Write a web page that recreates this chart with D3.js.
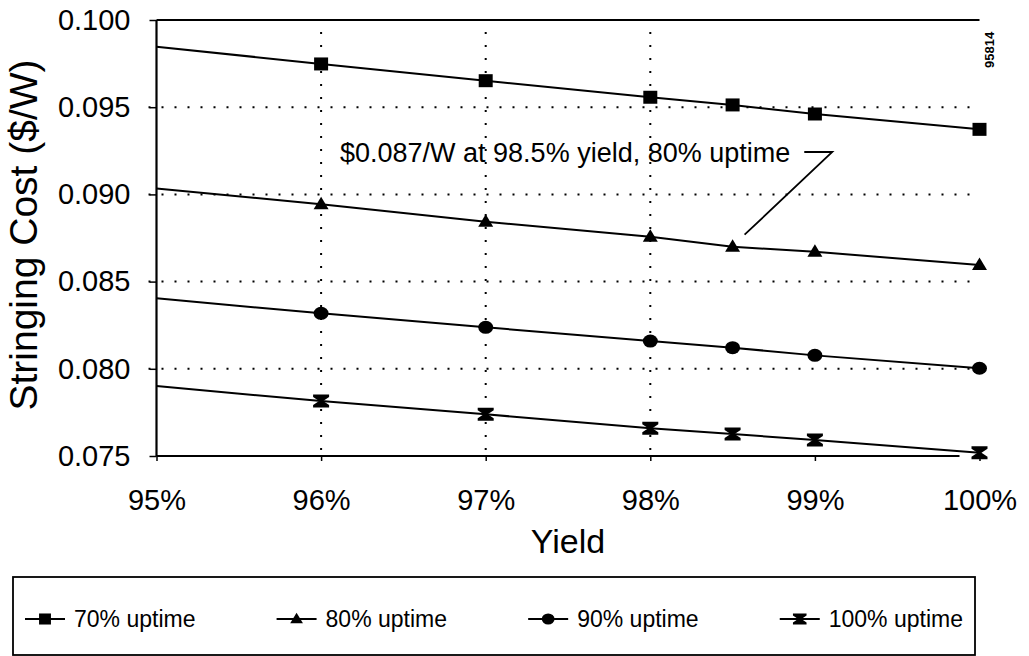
<!DOCTYPE html>
<html>
<head>
<meta charset="utf-8">
<script src="https://cdn.jsdelivr.net/npm/d3@7"></script>
<style>
  body { margin: 0; background: #fff; }
  svg { display: block; font-family: "Liberation Sans", Arial, Helvetica, sans-serif; }
</style>
</head>
<body>
<svg id="chart" width="1029" height="656"></svg>
<script>
// Yield values (fraction) at which each curve is evaluated; markers skip the first one
const yields = [0.95, 0.96, 0.97, 0.98, 0.985, 0.99, 1.00];

// Stringing cost ($/W) for each uptime level
const uptime70  = [0.09847, 0.09748, 0.09652, 0.09557, 0.09513, 0.09461, 0.09373];
const uptime80  = [0.09034, 0.08944, 0.08843, 0.08757, 0.08700, 0.08671, 0.08595];
const uptime90  = [0.08404, 0.08318, 0.08238, 0.08159, 0.08121, 0.08077, 0.08003];
const uptime100 = [0.07901, 0.07815, 0.07739, 0.07659, 0.07626, 0.07592, 0.07519];

const seriesNames  = ["70% uptime", "80% uptime", "90% uptime", "100% uptime"];
const markerShapes = ["square", "triangle", "circle", "hourglass"];

const xTicks = [0.95, 0.96, 0.97, 0.98, 0.99, 1.00];
const yTicks = [0.075, 0.080, 0.085, 0.090, 0.095, 0.100];
const xGridTicks = [0.96, 0.97, 0.98];
const yGridTicks = [0.080, 0.085, 0.090, 0.095];

const calloutText  = "$0.087/W at 98.5% yield, 80% uptime";
const calloutYield = 0.985;
const calloutCost  = 0.087;
const figureId = "95814";

const svg = d3.select("#chart");
const plot = { left: 156.5, right: 979.5, top: 20, bottom: 456 };

const x = d3.scaleLinear().domain([0.95, 1.00]).range([plot.left, plot.right]);
const y = d3.scaleLinear().domain([0.075, 0.100]).range([plot.bottom, plot.top]);

// marker paths centred on the origin
function markerPath(shape, s) {
  const k = s || 1;
  switch (shape) {
    case "square":
      return `M${-7*k},${-6.5*k}H${7*k}V${6.5*k}H${-7*k}Z`;
    case "triangle":
      return `M0,${-7.5*k}L${7.5*k},${5*k}L${-7.5*k},${5*k}Z`;
    case "circle":
      return `M${-7.5*k},0A${7.5*k},${6.5*k} 0 1,0 ${7.5*k},0A${7.5*k},${6.5*k} 0 1,0 ${-7.5*k},0Z`;
    case "hourglass":
      return `M${-8*k},${-6.5*k}H${8*k}V${-4*k}L${2*k},0L${8*k},${4*k}V${6.5*k}H${-8*k}V${4*k}L${-2*k},0L${-8*k},${-4*k}Z`;
  }
}

// dotted gridlines
const grid = svg.append("g").attr("stroke", "#000").attr("stroke-width", 2)
  .attr("stroke-dasharray", "2 11").attr("fill", "none");
grid.selectAll("line.h").data(yGridTicks).join("line")
  .attr("class", "h")
  .attr("x1", plot.left - 8).attr("x2", plot.right)
  .attr("y1", d => y(d)).attr("y2", d => y(d));
grid.selectAll("line.v").data(xGridTicks).join("line")
  .attr("class", "v")
  .attr("x1", d => x(d)).attr("x2", d => x(d))
  .attr("y1", plot.top + 12).attr("y2", plot.bottom);

// axes
const yAxis = d3.axisLeft(y).tickValues(yTicks).tickFormat(d3.format(".3f"))
  .tickSize(7).tickPadding(19);
const gy = svg.append("g").attr("transform", `translate(${plot.left},0)`).call(yAxis);
gy.select(".domain").remove();
gy.selectAll(".tick text").attr("font-size", 29).attr("fill", "#000")
  .attr("font-family", "'Liberation Sans', Arial, sans-serif");
gy.selectAll(".tick line").attr("stroke", "#000").attr("stroke-width", 1.5);

const xAxis = d3.axisBottom(x).tickValues(xTicks).tickFormat(d3.format(".0%"))
  .tickSize(5).tickPadding(28);
const gx = svg.append("g").attr("transform", `translate(0,${plot.bottom})`).call(xAxis);
gx.select(".domain").remove();
gx.selectAll(".tick text").attr("font-size", 29).attr("fill", "#000")
  .attr("font-family", "'Liberation Sans', Arial, sans-serif");
gx.selectAll(".tick line").attr("stroke", "#000").attr("stroke-width", 1.5);

// frame: left, top and bottom edges
const frame = svg.append("g").attr("stroke", "#000").attr("stroke-width", 2.2).attr("fill", "none");
frame.append("line").attr("x1", plot.left).attr("x2", plot.left).attr("y1", plot.top).attr("y2", plot.bottom);
frame.append("line").attr("x1", plot.left).attr("x2", plot.right).attr("y1", plot.top).attr("y2", plot.top);
frame.append("line").attr("x1", plot.left).attr("x2", plot.right - 20).attr("y1", plot.bottom).attr("y2", plot.bottom);

// axis titles
svg.append("text")
  .attr("transform", `translate(37,${(plot.top + plot.bottom) / 2 - 3}) rotate(-90)`)
  .attr("text-anchor", "middle").attr("font-size", 39).attr("fill", "#000")
  .text("Stringing Cost ($/W)");
svg.append("text")
  .attr("x", (plot.left + plot.right) / 2).attr("y", 553)
  .attr("text-anchor", "middle").attr("font-size", 34).attr("fill", "#000")
  .text("Yield");

// series
const seriesValues = [uptime70, uptime80, uptime90, uptime100];
const series = seriesNames.map((name, i) => ({
  name,
  shape: markerShapes[i],
  points: yields.map((yl, j) => ({ yield: yl, cost: seriesValues[i][j] }))
}));

const line = d3.line().x(d => x(d.yield)).y(d => y(d.cost));
const gs = svg.append("g");
series.forEach(s => {
  gs.append("path").datum(s.points).attr("d", line)
    .attr("fill", "none").attr("stroke", "#000").attr("stroke-width", 2);
  gs.selectAll(null).data(s.points.slice(1)).join("path")
    .attr("transform", d => `translate(${x(d.yield)},${y(d.cost)})`)
    .attr("d", markerPath(s.shape)).attr("fill", "#000");
});

// callout for the 98.5% / 80% point
const calloutLabel = svg.append("text")
  .attr("x", 340).attr("y", 162)
  .attr("font-size", 27).attr("fill", "#000")
  .text(calloutText);
const textEnd = 340 + calloutLabel.node().getComputedTextLength();
const cx = x(calloutYield), cy = y(calloutCost);
svg.append("path")
  .attr("d", d3.line()([[textEnd + 14, 152], [textEnd + 42, 152], [cx + 12, cy - 12]]))
  .attr("fill", "none").attr("stroke", "#000").attr("stroke-width", 1.8);

// figure id in the upper right
svg.append("text")
  .attr("transform", "translate(994,68) rotate(-90)")
  .attr("font-size", 13).attr("font-weight", "bold").attr("fill", "#000")
  .text(figureId);

// legend
const legendBox = { x: 13, y: 577, w: 962, h: 78 };
const lg = svg.append("g");
lg.append("rect")
  .attr("x", legendBox.x).attr("y", legendBox.y)
  .attr("width", legendBox.w).attr("height", legendBox.h)
  .attr("fill", "none").attr("stroke", "#000").attr("stroke-width", 1.8);

const lineLen = 40, gap = 9, fs = 23, ly = legendBox.y + 42;
const items = lg.selectAll("g.item").data(series).join("g").attr("class", "item");
items.append("line").attr("x1", 0).attr("x2", lineLen).attr("y1", 0).attr("y2", 0)
  .attr("stroke", "#000").attr("stroke-width", 2);
items.append("path").attr("transform", `translate(${lineLen / 2},0)`)
  .attr("d", d => markerPath(d.shape, 0.85)).attr("fill", "#000");
items.append("text").attr("x", lineLen + gap).attr("y", 8)
  .attr("font-size", fs).attr("fill", "#000").text(d => d.name);

const widths = [];
items.each(function () { widths.push(lineLen + gap + d3.select(this).select("text").node().getComputedTextLength()); });
const pad = 12;
const spare = legendBox.w - 2 * pad - d3.sum(widths);
const between = spare / (widths.length - 1);
let cursor = legendBox.x + pad;
items.attr("transform", (d, i) => {
  const t = `translate(${cursor},${ly})`;
  cursor += widths[i] + between;
  return t;
});
</script>
</body>
</html>
